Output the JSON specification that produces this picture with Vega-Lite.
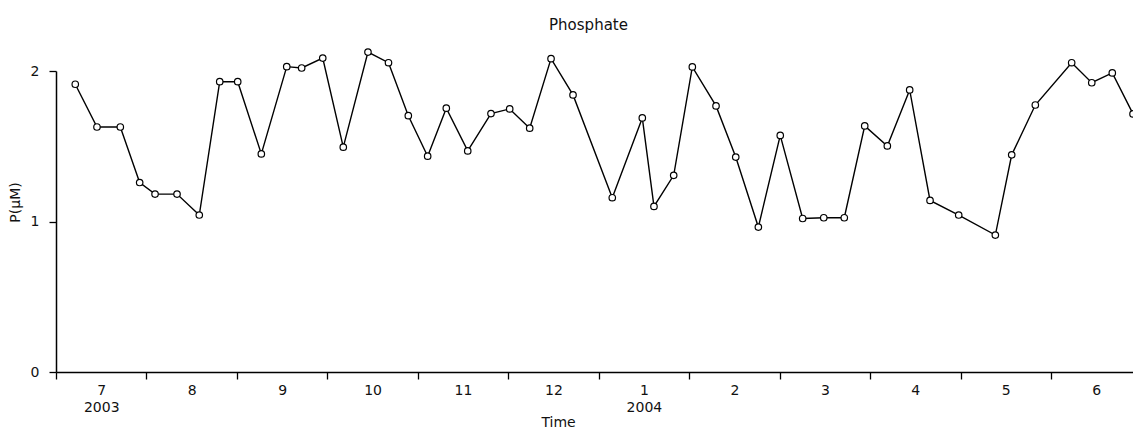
{
  "$schema": "https://vega.github.io/schema/vega-lite/v6.json",
  "width": 1077,
  "height": 301,
  "autosize": {"type": "none"},
  "padding": {"left": 56, "top": 71, "right": 0, "bottom": 60},
  "title": {"text": "Phosphate", "font": "DejaVu Sans", "fontSize": 15, "fontWeight": "normal", "color": "#111", "offset": 13, "dx": -6},
  "config": {
    "view": {"stroke": null},
    "axis": {
      "grid": false,
      "domainColor": "#000",
      "tickColor": "#000",
      "labelColor": "#111",
      "titleColor": "#111",
      "labelFont": "DejaVu Sans",
      "titleFont": "DejaVu Sans",
      "titleFontWeight": "normal",
      "labelFontSize": 14,
      "titleFontSize": 14,
      "domainWidth": 1.5,
      "tickWidth": 1.3,
      "tickSize": 7,
      "labelOverlap": false
    }
  },
  "data": {
    "values": [
      {"month": 0.213, "P": 1.912},
      {"month": 0.453, "P": 1.628},
      {"month": 0.711, "P": 1.628},
      {"month": 0.925, "P": 1.259},
      {"month": 1.095, "P": 1.182},
      {"month": 1.338, "P": 1.182},
      {"month": 1.584, "P": 1.043},
      {"month": 1.810, "P": 1.929},
      {"month": 2.009, "P": 1.929},
      {"month": 2.270, "P": 1.449},
      {"month": 2.551, "P": 2.029},
      {"month": 2.716, "P": 2.020},
      {"month": 2.949, "P": 2.086},
      {"month": 3.176, "P": 1.494},
      {"month": 3.449, "P": 2.126},
      {"month": 3.676, "P": 2.055},
      {"month": 3.895, "P": 1.703},
      {"month": 4.109, "P": 1.434},
      {"month": 4.315, "P": 1.753},
      {"month": 4.552, "P": 1.469},
      {"month": 4.809, "P": 1.717},
      {"month": 5.016, "P": 1.748},
      {"month": 5.237, "P": 1.620},
      {"month": 5.473, "P": 2.082},
      {"month": 5.716, "P": 1.841},
      {"month": 6.150, "P": 1.158},
      {"month": 6.482, "P": 1.688},
      {"month": 6.611, "P": 1.100},
      {"month": 6.829, "P": 1.307},
      {"month": 7.035, "P": 2.027},
      {"month": 7.297, "P": 1.768},
      {"month": 7.515, "P": 1.428},
      {"month": 7.765, "P": 0.963},
      {"month": 8.007, "P": 1.572},
      {"month": 8.255, "P": 1.020},
      {"month": 8.488, "P": 1.025},
      {"month": 8.715, "P": 1.025},
      {"month": 8.941, "P": 1.635},
      {"month": 9.191, "P": 1.502},
      {"month": 9.438, "P": 1.874},
      {"month": 9.663, "P": 1.140},
      {"month": 9.980, "P": 1.043},
      {"month": 10.385, "P": 0.910},
      {"month": 10.566, "P": 1.443},
      {"month": 10.827, "P": 1.774},
      {"month": 11.229, "P": 2.055},
      {"month": 11.451, "P": 1.922},
      {"month": 11.678, "P": 1.987},
      {"month": 11.907, "P": 1.715}
    ]
  },
  "resolve": {"axis": {"x": "independent"}},
  "layer": [
    {
      "mark": {"type": "line", "color": "#000", "strokeWidth": 1.4},
      "encoding": {
        "x": {
          "field": "month",
          "type": "quantitative",
          "scale": {"domain": [0, 11.907], "nice": false, "zero": false},
          "axis": {
            "orient": "bottom",
            "values": [0, 1, 2, 3, 4, 5, 6, 7, 8, 9, 10, 11],
            "labels": false,
            "title": null
          }
        },
        "y": {
          "field": "P",
          "type": "quantitative",
          "scale": {"domain": [0, 2], "nice": false},
          "axis": {
            "values": [0, 1, 2],
            "labelExpr": "'' + datum.value",
            "labelPadding": 10,
            "title": "P(μM)",
            "titleAngle": 270,
            "titleAlign": "center",
            "titleBaseline": "bottom",
            "titleX": -34,
            "titleY": 131
          }
        }
      }
    },
    {
      "mark": {"type": "point", "shape": "circle", "size": 42, "fill": "#fff", "stroke": "#000", "strokeWidth": 1.2, "opacity": 1, "fillOpacity": 1},
      "encoding": {
        "x": {
          "field": "month",
          "type": "quantitative",
          "scale": {"domain": [0, 11.907], "nice": false, "zero": false},
          "axis": {
            "orient": "bottom",
            "values": [0.5, 1.5, 2.5, 3.5, 4.5, 5.5, 6.5, 7.5, 8.5, 9.5, 10.5, 11.5],
            "ticks": false,
            "domain": false,
            "labelPadding": 11,
            "labelLineHeight": 17,
            "labelExpr": "datum.value == 0.5 ? ['7', '2003'] : datum.value == 6.5 ? ['1', '2004'] : '' + ((floor(datum.value) + 6) % 12 + 1)",
            "title": "Time",
            "titleX": 502,
            "titlePadding": 1
          }
        },
        "y": {"field": "P", "type": "quantitative", "scale": {"domain": [0, 2], "nice": false}}
      }
    }
  ]
}
